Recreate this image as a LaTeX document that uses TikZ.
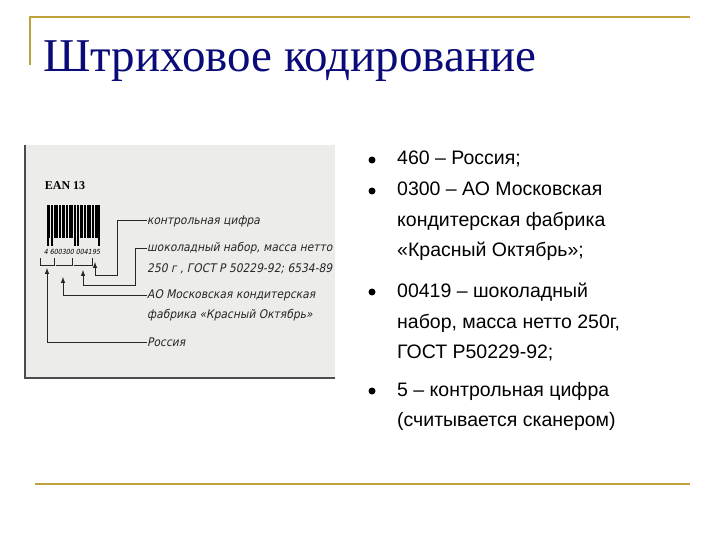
\documentclass[tikz,border=0pt]{standalone}
\usepackage{fontspec}
\setmainfont{Liberation Sans}
\newfontfamily\titlefont{Liberation Serif}
\newfontfamily\scanfont{DejaVu Sans Condensed}[FakeSlant=0.2]
\definecolor{gold}{RGB}{190,160,60}
\definecolor{navy}{RGB}{10,10,120}
\definecolor{paper}{RGB}{236,236,234}
\begin{document}
\begin{tikzpicture}[x=1pt,y=-1pt,
  rule/.style={gold,line width=1.6pt},
  lbl/.style={anchor=west,inner sep=0,font=\scanfont\fontsize{11.9}{14}\selectfont,text=black!85},
  item/.style={anchor=north west,inner sep=0,align=left,font=\fontsize{19.5}{30.5}\selectfont},
  dot/.style={circle,fill=black,inner sep=0,minimum size=7pt},
  lead/.style={line width=1pt,black!85},
  arr/.style={lead,-latex}]
\useasboundingbox (0,0) rectangle (720,540);
\fill[white] (0,0) rectangle (720,540);
\draw[rule] (30,65) -- (30,17) -- (690,17);
\draw[rule] (35,484) -- (690,484);
\node[anchor=base west,inner sep=0,text=navy,font=\titlefont\fontsize{47}{47}\selectfont] (title) at (43,72) {Штриховое кодирование};
% picture
\fill[paper] (25,145) rectangle (335,378);
\draw[black!70,line width=1.5pt] (25,145) -- (25,378) -- (335,378);
\node[inner sep=0,font=\titlefont\bfseries\fontsize{12}{12}\selectfont] (ean) at (65,186) {EAN 13};
\foreach \a/\w in {47/3,51/2,54/4,59/2,62/3,66/2,69/4,74/2,77/2,80/3,84/2,87/4,92/2,95/3,98/2}
  \fill[black] (\a,205) rectangle ++(\w,33);
\fill[black] (47,238) rectangle (49,246);\fill[black] (51,238) rectangle (53,246);
\fill[black] (74,238) rectangle (76,246);\fill[black] (77,238) rectangle (79,246);
\fill[black] (98,238) rectangle (100,246);
\node[inner sep=0,font=\scanfont\fontsize{7}{7}\selectfont] (digits) at (72,252) {4\ 600300\ 004195};
\coordinate (d4) at (95,262);
\draw[lead] (40,258) -- (40,265) -- (54,265) -- (54,258);
\draw[lead] (56,265) -- (72,265) -- (72,258);
\draw[lead] (74,265) -- (92,265) -- (92,258);
\node[lbl] (t1) at (147,221) {контрольная цифра};
\node[lbl] (t2) at (147,248) {шоколадный набор, масса нетто};
\node[lbl] (t3) at (147,269) {250 г , ГОСТ Р 50229-92; 6534-89};
\node[lbl] (t4) at (147,295) {АО Московская кондитерская};
\node[lbl] (t5) at (147,315) {фабрика «Красный Октябрь»};
\node[lbl] (t6) at (147,342) {Россия};
\draw[arr] (t1.west) -- (117,221) -- (117,275) -- (95,275) -- (d4);
\draw[arr] (t2.west) -- (135,248) -- (135,285) -- (83,285) -- (83,270);
\draw[arr] (t4.west) -- (63,295) -- (63,277);
\draw[arr] (t6.west) -- (47,342) -- (47,268);
% bullets
\foreach \y/\n in {160/b1,191/b2,292/b3,391/b4} \node[dot] (\n) at (372,\y) {};
\node[item] (i1) at (397,151) {460 – Россия;};
\node[item] (i2) at (397,182) {0300 – АО Московская\\кондитерская фабрика\\«Красный Октябрь»;};
\node[item] (i3) at (397,283) {00419 – шоколадный\\набор, масса нетто 250г,\\ГОСТ Р50229-92;};
\node[item] (i4) at (397,382) {5 – контрольная цифра\\(считывается сканером)};
\end{tikzpicture}
\end{document}
